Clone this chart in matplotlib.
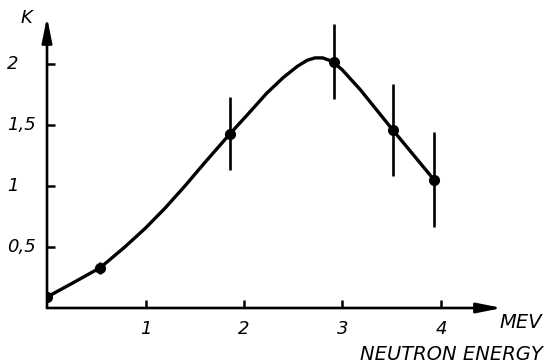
import matplotlib
matplotlib.use('Agg')
import matplotlib.pyplot as plt
from matplotlib.transforms import blended_transform_factory

# measured points with error bars
energy = [0.0, 0.54, 1.86, 2.91, 3.51, 3.93]
k_val = [0.09, 0.33, 1.43, 2.02, 1.46, 1.05]
k_err = [0.0, 0.05, 0.30, 0.31, 0.38, 0.39]

# hand-drawn fit curve
curve_x = [0.0, 0.25, 0.54, 0.79, 1.00, 1.20, 1.40, 1.60, 1.86, 2.03, 2.23,
           2.40, 2.54, 2.64, 2.72, 2.80, 2.90, 3.00, 3.18, 3.51, 3.93]
curve_y = [0.09, 0.20, 0.33, 0.50, 0.655, 0.82, 1.00, 1.19, 1.43, 1.58, 1.76,
           1.89, 1.98, 2.03, 2.05, 2.05, 2.02, 1.95, 1.79, 1.46, 1.05]

xticks = [1, 2, 3, 4]
xtick_labels = ['1', '2', '3', '4']
yticks = [0.5, 1, 1.5, 2]
ytick_labels = ['0,5', '1', '1,5', '2']

W, H = 547, 364
fig = plt.figure(figsize=(W / 100, H / 100), dpi=100)
# origin at pixel (47, 308), arrow tips at x=502 and y=17
ax = fig.add_axes([47 / W, (H - 308) / H, (502 - 47) / W, (308 - 17) / H])
ax.set_xlim(0, 455 / 98.5)
ax.set_ylim(0, 291 / 122)
for s in ax.spines.values():
    s.set_visible(False)

# axes with arrows
arrow = dict(arrowstyle='-|>,head_length=1.0,head_width=0.2', lw=1.9, color='k',
             mutation_scale=15, shrinkA=0, shrinkB=0)
ax.annotate('', xy=(1, 0), xytext=(0, 0), xycoords='axes fraction', arrowprops=arrow)
ax.annotate('', xy=(0, 1), xytext=(0, 0), xycoords='axes fraction', arrowprops=arrow)

ax.set_xticks(xticks, labels=xtick_labels)
ax.set_yticks(yticks, labels=[])
ax.tick_params(direction='in', length=6, width=1.8, color='k')
ax.tick_params(axis='x', pad=9, labelsize=13)
for lab in ax.get_xticklabels():
    lab.set_fontstyle('italic')

tr = blended_transform_factory(fig.transFigure, ax.transData)
for yv, lab in zip(yticks, ytick_labels):
    ax.text(7 / W, yv, lab, transform=tr, ha='left', va='center',
            fontsize=13, fontstyle='italic')

ax.plot(curve_x, curve_y, color='k', lw=2.4, solid_joinstyle='round', solid_capstyle='round')
ax.errorbar(energy, k_val, yerr=k_err, fmt='o', color='k', ms=7, elinewidth=1.9, capsize=0)

fig.text(26 / W, 1 - 18 / H, 'K', ha='center', va='center', fontsize=13, fontstyle='italic')
fig.text(521 / W, 1 - 322 / H, 'MEV', ha='center', va='center', fontsize=14, fontstyle='italic')
fig.text(543 / W, 1 - 354 / H, 'NEUTRON ENERGY', ha='right', va='center', fontsize=14, fontstyle='italic')

fig.savefig('out.png', dpi=100)
